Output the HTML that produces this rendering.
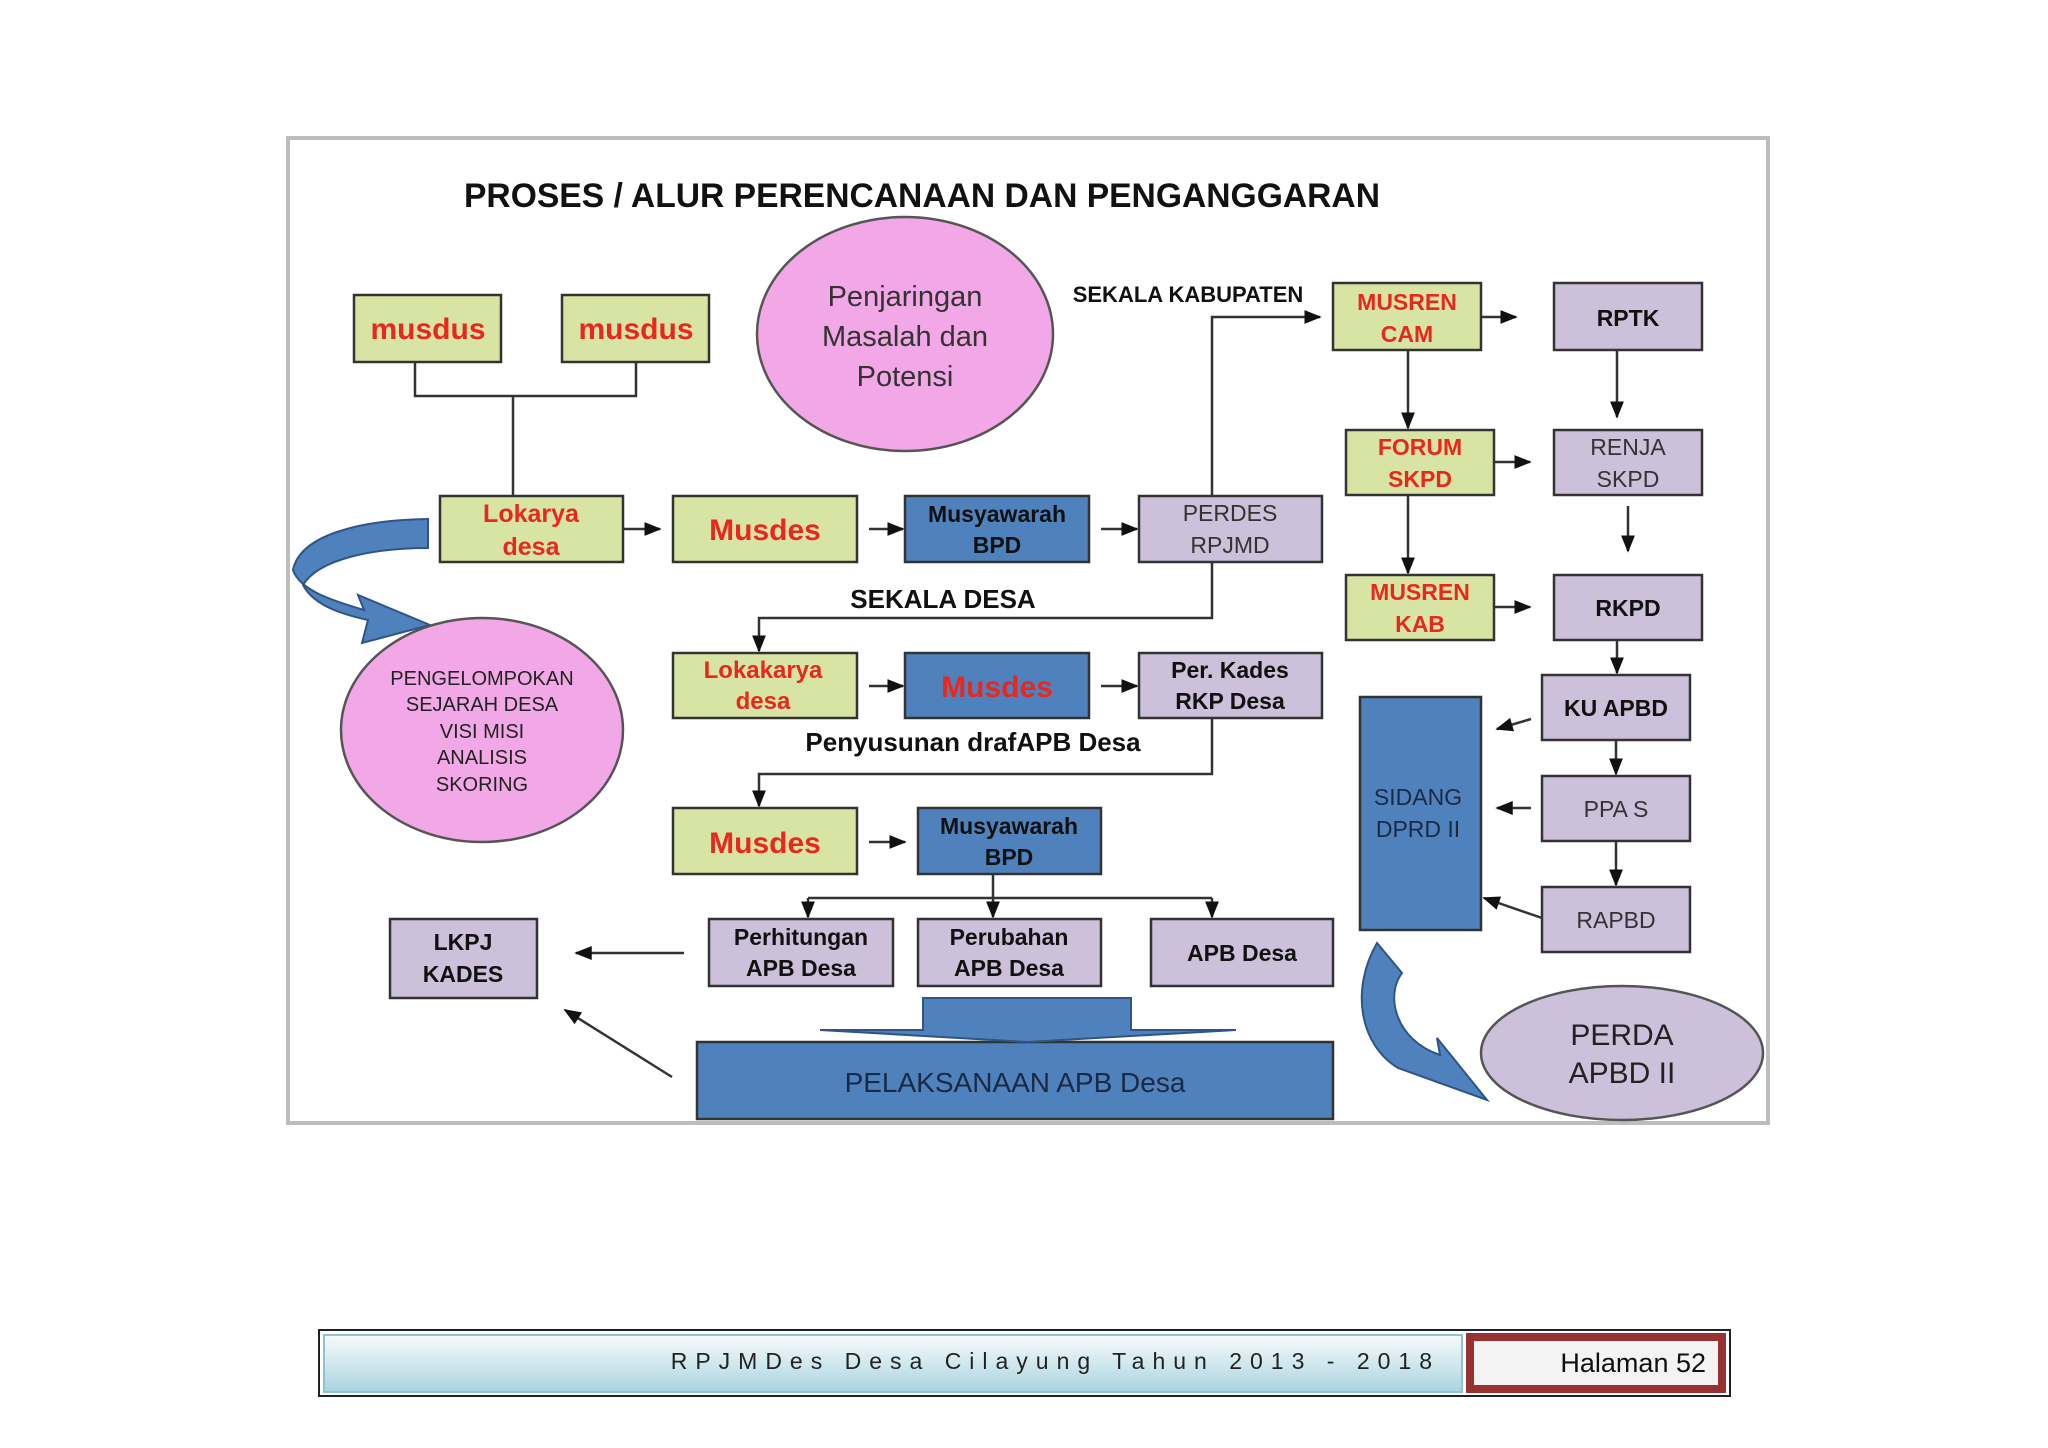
<!DOCTYPE html>
<html><head><meta charset="utf-8"><style>
html,body{margin:0;padding:0;background:#fff;}
svg{display:block;}
text{font-family:"Liberation Sans",sans-serif;}
</style></head><body>
<svg width="2048" height="1448" viewBox="0 0 2048 1448" xmlns="http://www.w3.org/2000/svg">
<defs>
<marker id="a" viewBox="0 0 10 10" refX="9" refY="5" markerWidth="7" markerHeight="7" orient="auto"><path d="M0,1 L10,5 L0,9 z" fill="#111"/></marker>
<linearGradient id="fg" x1="0" y1="0" x2="0" y2="1"><stop offset="0" stop-color="#f8fbfc"/><stop offset="1" stop-color="#a9d4e0"/></linearGradient>
</defs>
<rect x="288" y="138" width="1480" height="985" fill="#fff" stroke="#bdbdbd" stroke-width="4"/>
<text x="922" y="207" font-size="34" font-weight="bold" text-anchor="middle" fill="#111" textLength="916" lengthAdjust="spacingAndGlyphs">PROSES / ALUR PERENCANAAN DAN PENGANGGARAN</text>

<g stroke="#333" stroke-width="2.5" fill="none">
<path d="M415,362 V396 H636 V362"/>
<path d="M513,396 V496"/>
<path d="M623,529 H660" marker-end="url(#a)"/>
<path d="M869,529 H903" marker-end="url(#a)"/>
<path d="M1101,529 H1137" marker-end="url(#a)"/>
<path d="M1212,496 V317 H1320" marker-end="url(#a)"/>
<path d="M1212,562 V618 H759 V651" marker-end="url(#a)"/>
<path d="M869,686 H903" marker-end="url(#a)"/>
<path d="M1101,686 H1137" marker-end="url(#a)"/>
<path d="M1212,718 V774 H759 V806" marker-end="url(#a)"/>
<path d="M869,842 H905" marker-end="url(#a)"/>
<path d="M993,874 V898 M808,898 H1212"/>
<path d="M808,898 V917" marker-end="url(#a)"/>
<path d="M993,898 V917" marker-end="url(#a)"/>
<path d="M1212,898 V917" marker-end="url(#a)"/>
<path d="M684,953 H576" marker-end="url(#a)"/>
<path d="M672,1077 L565,1010" marker-end="url(#a)"/>
<path d="M1481,317 H1516" marker-end="url(#a)"/>
<path d="M1617,350 V417" marker-end="url(#a)"/>
<path d="M1408,350 V428" marker-end="url(#a)"/>
<path d="M1494,462 H1530" marker-end="url(#a)"/>
<path d="M1628,506 V551" marker-end="url(#a)"/>
<path d="M1408,495 V573" marker-end="url(#a)"/>
<path d="M1494,607 H1530" marker-end="url(#a)"/>
<path d="M1617,640 V673" marker-end="url(#a)"/>
<path d="M1531,719 L1497,729" marker-end="url(#a)"/>
<path d="M1616,740 V774" marker-end="url(#a)"/>
<path d="M1531,808 H1497" marker-end="url(#a)"/>
<path d="M1616,841 V885" marker-end="url(#a)"/>
<path d="M1542,918 L1484,898" marker-end="url(#a)"/>
</g>

<path d="M428,519 L428,548 C370,548 318,560 303,585 C315,608 350,616 368,620 L362,643 L430,625 L358,595 L364,610 C330,600 300,590 293,570 C300,535 360,520 428,519 Z" fill="#4f81bd" stroke="#2f5487" stroke-width="2"/>
<path d="M1377,943 L1402,973 C1385,995 1395,1040 1440,1055 L1437,1038 L1487,1100 L1398,1068 C1360,1045 1350,990 1377,943 Z" fill="#4f81bd" stroke="#2f5487" stroke-width="2"/>

<ellipse cx="905" cy="334" rx="148" ry="117" fill="#f2a7e6" stroke="#555" stroke-width="2.5"/>
<text font-size="29" fill="#333" text-anchor="middle"><tspan x="905" y="306">Penjaringan</tspan><tspan x="905" y="346">Masalah dan</tspan><tspan x="905" y="386">Potensi</tspan></text>
<ellipse cx="482" cy="730" rx="141" ry="112" fill="#f2a7e6" stroke="#555" stroke-width="2.5"/>
<text font-size="20" fill="#222" text-anchor="middle"><tspan x="482" y="685">PENGELOMPOKAN</tspan><tspan x="482" y="711">SEJARAH DESA</tspan><tspan x="482" y="738">VISI MISI</tspan><tspan x="482" y="764">ANALISIS</tspan><tspan x="482" y="791">SKORING</tspan></text>
<ellipse cx="1622" cy="1053" rx="141" ry="67" fill="#ccc0da" stroke="#555" stroke-width="2.5"/>
<text font-size="30" fill="#222" text-anchor="middle"><tspan x="1622" y="1045">PERDA</tspan><tspan x="1622" y="1083">APBD II</tspan></text>

<g stroke="#333" stroke-width="2.5">
<rect x="354" y="295" width="147" height="67" fill="#d7e4a3"/>
<rect x="562" y="295" width="147" height="67" fill="#d7e4a3"/>
<rect x="440" y="496" width="183" height="66" fill="#d7e4a3"/>
<rect x="673" y="496" width="184" height="66" fill="#d7e4a3"/>
<rect x="673" y="653" width="184" height="65" fill="#d7e4a3"/>
<rect x="673" y="808" width="184" height="66" fill="#d7e4a3"/>
<rect x="1333" y="283" width="148" height="67" fill="#d7e4a3"/>
<rect x="1346" y="430" width="148" height="65" fill="#d7e4a3"/>
<rect x="1346" y="575" width="148" height="65" fill="#d7e4a3"/>
<rect x="905" y="496" width="184" height="66" fill="#4f81bd"/>
<rect x="905" y="653" width="184" height="65" fill="#4f81bd"/>
<rect x="918" y="808" width="183" height="66" fill="#4f81bd"/>
<rect x="1360" y="697" width="121" height="233" fill="#4f81bd"/>
<rect x="697" y="1042" width="636" height="77" fill="#4f81bd"/>
<rect x="1139" y="496" width="183" height="66" fill="#ccc0da"/>
<rect x="1139" y="653" width="183" height="65" fill="#ccc0da"/>
<rect x="709" y="919" width="184" height="67" fill="#ccc0da"/>
<rect x="918" y="919" width="183" height="67" fill="#ccc0da"/>
<rect x="1151" y="919" width="182" height="67" fill="#ccc0da"/>
<rect x="390" y="919" width="147" height="79" fill="#ccc0da"/>
<rect x="1554" y="283" width="148" height="67" fill="#ccc0da"/>
<rect x="1554" y="430" width="148" height="65" fill="#ccc0da"/>
<rect x="1554" y="575" width="148" height="65" fill="#ccc0da"/>
<rect x="1542" y="675" width="148" height="65" fill="#ccc0da"/>
<rect x="1542" y="776" width="148" height="65" fill="#ccc0da"/>
<rect x="1542" y="887" width="148" height="65" fill="#ccc0da"/>
</g>
<path d="M923,998 H1131 V1030 H1236 L1027,1042 L820,1030 H923 Z" fill="#4f81bd" stroke="#2f5487" stroke-width="2"/>

<g fill="#e8281f" font-weight="bold" text-anchor="middle">
<text x="428" y="339" font-size="30">musdus</text>
<text x="636" y="339" font-size="30">musdus</text>
<text x="531" y="522" font-size="25">Lokarya</text>
<text x="531" y="555" font-size="25">desa</text>
<text x="765" y="540" font-size="30">Musdes</text>
<text x="763" y="678" font-size="24">Lokakarya</text>
<text x="763" y="709" font-size="24">desa</text>
<text x="997" y="697" font-size="30">Musdes</text>
<text x="765" y="853" font-size="30">Musdes</text>
<text x="1407" y="310" font-size="23">MUSREN</text>
<text x="1407" y="342" font-size="23">CAM</text>
<text x="1420" y="455" font-size="23">FORUM</text>
<text x="1420" y="487" font-size="23">SKPD</text>
<text x="1420" y="600" font-size="23">MUSREN</text>
<text x="1420" y="632" font-size="23">KAB</text>
</g>
<g fill="#111" text-anchor="middle">
<text x="997" y="522" font-size="23" font-weight="bold">Musyawarah</text>
<text x="997" y="553" font-size="23" font-weight="bold">BPD</text>
<text x="1009" y="834" font-size="23" font-weight="bold">Musyawarah</text>
<text x="1009" y="865" font-size="23" font-weight="bold">BPD</text>
<text x="1230" y="521" font-size="23" fill="#333">PERDES</text>
<text x="1230" y="553" font-size="23" fill="#333">RPJMD</text>
<text x="1230" y="678" font-size="23" font-weight="bold">Per. Kades</text>
<text x="1230" y="709" font-size="23" font-weight="bold">RKP Desa</text>
<text x="801" y="945" font-size="23" font-weight="bold">Perhitungan</text>
<text x="801" y="976" font-size="23" font-weight="bold">APB Desa</text>
<text x="1009" y="945" font-size="23" font-weight="bold">Perubahan</text>
<text x="1009" y="976" font-size="23" font-weight="bold">APB Desa</text>
<text x="1242" y="961" font-size="23" font-weight="bold">APB Desa</text>
<text x="463" y="950" font-size="23" font-weight="bold">LKPJ</text>
<text x="463" y="982" font-size="23" font-weight="bold">KADES</text>
<text x="1015" y="1092" font-size="28" fill="#1a2a44">PELAKSANAAN APB Desa</text>
<text x="1628" y="326" font-size="23" font-weight="bold">RPTK</text>
<text x="1628" y="455" font-size="23" fill="#333">RENJA</text>
<text x="1628" y="487" font-size="23" fill="#333">SKPD</text>
<text x="1628" y="616" font-size="23" font-weight="bold">RKPD</text>
<text x="1616" y="716" font-size="23" font-weight="bold">KU APBD</text>
<text x="1616" y="817" font-size="23" fill="#333">PPA S</text>
<text x="1616" y="928" font-size="23" fill="#333">RAPBD</text>
<text x="1418" y="805" font-size="23" fill="#1a2a44">SIDANG</text>
<text x="1418" y="837" font-size="23" fill="#1a2a44">DPRD II</text>
<text x="1188" y="302" font-size="22" font-weight="bold">SEKALA  KABUPATEN</text>
<text x="943" y="608" font-size="26" font-weight="bold">SEKALA  DESA</text>
<text x="973" y="751" font-size="26" font-weight="bold">Penyusunan drafAPB Desa</text>
</g>

<rect x="319" y="1330" width="1411" height="66" fill="#fff" stroke="#222" stroke-width="2"/>
<rect x="324" y="1335" width="1138" height="57" fill="url(#fg)" stroke="#8fc3d1" stroke-width="2"/>
<rect x="1470" y="1337" width="252" height="52" fill="#f3f3f3" stroke="#983232" stroke-width="8"/>
<text x="1440" y="1369" font-size="23" text-anchor="end" fill="#222" letter-spacing="8">RPJMDes Desa Cilayung Tahun 2013 - 2018</text>
<text x="1706" y="1372" font-size="27" text-anchor="end" fill="#111">Halaman 52</text>
</svg>
</body></html>
